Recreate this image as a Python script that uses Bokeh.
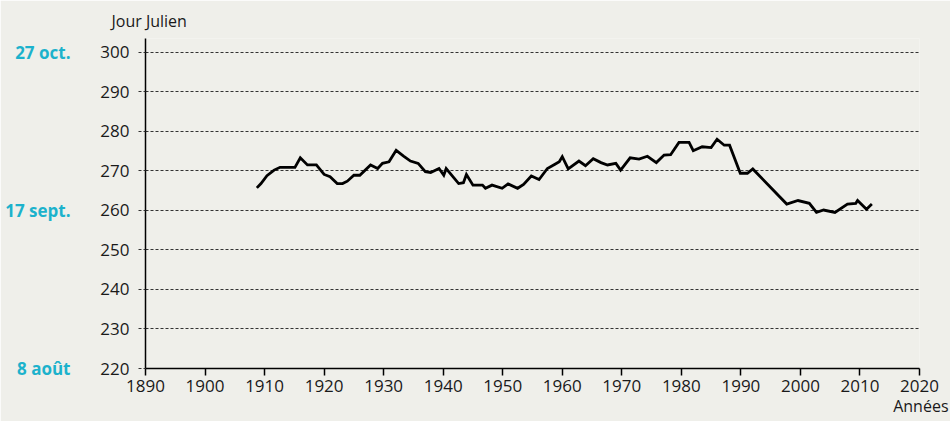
from bokeh.plotting import figure
from bokeh.models import LinearAxis, FixedTicker, Title, Range1d
from bokeh.embed import file_html
from bokeh.resources import INLINE

# Julian day of the event
years = [1908.7, 1909.4, 1910.4, 1911.6, 1912.6, 1915.1, 1916.0, 1917.2, 1918.7, 1920.0,
         1921.0, 1922.2, 1923.1, 1923.9, 1925.0, 1926.0, 1927.8, 1929.0, 1929.8, 1930.9,
         1932.1, 1933.4, 1934.5, 1935.8, 1937.0, 1937.9, 1939.3, 1940.1, 1940.5, 1942.6,
         1943.4, 1943.9, 1945.0, 1946.6, 1947.1, 1948.2, 1949.9, 1950.9, 1952.5, 1953.5,
         1954.8, 1956.1, 1957.5, 1958.7, 1959.5, 1960.0, 1961.0, 1962.8, 1963.9, 1965.2,
         1966.5, 1967.6, 1969.0, 1969.8, 1971.4, 1972.9, 1974.3, 1975.8, 1977.1, 1978.2,
         1979.6, 1981.3, 1982.0, 1983.5, 1985.0, 1986.0, 1987.2, 1988.1, 1989.9, 1991.1,
         1992.0, 1997.7, 1999.6, 2001.5, 2002.7, 2003.9, 2005.8, 2007.9, 2009.3, 2009.6,
         2011.1, 2012.0]
julian_day = [265.7, 266.8, 268.8, 270.2, 270.9, 270.9, 273.3, 271.5, 271.5, 269.1,
              268.5, 266.8, 266.8, 267.4, 268.9, 268.9, 271.5, 270.6, 271.9, 272.3,
              275.2, 273.7, 272.5, 271.9, 269.8, 269.6, 270.6, 268.9, 270.6, 266.8,
              267.0, 269.1, 266.4, 266.4, 265.6, 266.4, 265.6, 266.7, 265.6, 266.6,
              268.7, 267.8, 270.6, 271.6, 272.3, 273.6, 270.5, 272.5, 271.3, 273.1,
              272.1, 271.5, 271.9, 270.2, 273.3, 273.0, 273.7, 272.1, 274.0, 274.1,
              277.2, 277.2, 275.1, 276.1, 275.9, 278.0, 276.5, 276.5, 269.4, 269.4,
              270.5, 261.6, 262.5, 261.8, 259.5, 260.1, 259.5, 261.6, 261.8, 262.5,
              260.3, 261.6]

x_ticks = [1890, 1900, 1910, 1920, 1930, 1940, 1950, 1960, 1970, 1980, 1990, 2000, 2010, 2020]
y_ticks = [220, 230, 240, 250, 260, 270, 280, 290, 300]
date_ticks = [220, 260, 300]
date_labels = ["8 août", "17 sept.", "27 oct."]

BG = "#efefea"
CYAN = "#1cb2cc"
FONT = "Open Sans"
TXT = "#1a1a1a"

p = figure(width=950, height=421, output_backend="svg", toolbar_location=None,
           x_range=Range1d(1890, 2020), y_range=Range1d(220, 303.5),
           min_border_left=145, min_border_right=31, min_border_top=36, min_border_bottom=53)
p.background_fill_color = BG
p.border_fill_color = BG
p.outline_line_color = None

p.line(years, julian_day, line_color="black", line_width=2.8, line_join="miter")

# x axis
p.xaxis.ticker = FixedTicker(ticks=x_ticks)
p.xaxis.axis_line_color = "black"
p.xaxis.axis_line_width = 1.5
p.xaxis.major_tick_line_color = "black"
p.xaxis.major_tick_line_width = 1.5
p.xaxis.major_tick_out = 7
p.xaxis.major_tick_in = 0
p.xaxis.minor_tick_line_color = None
p.xaxis.major_label_standoff = 4
p.xaxis.major_label_text_font = FONT
p.xaxis.major_label_text_font_size = "17px"
p.xaxis.major_label_text_color = TXT

# y axis
p.yaxis.ticker = FixedTicker(ticks=y_ticks)
p.yaxis.axis_line_color = "black"
p.yaxis.axis_line_width = 1.5
p.yaxis.major_tick_line_color = "#333333"
p.yaxis.major_tick_line_dash = "3 2"
p.yaxis.major_tick_out = 7
p.yaxis.major_tick_in = 0
p.yaxis.minor_tick_line_color = None
p.yaxis.major_label_standoff = 9
p.yaxis.major_label_text_font = FONT
p.yaxis.major_label_text_font_size = "17px"
p.yaxis.major_label_text_color = TXT

p.xgrid.visible = False
p.ygrid.grid_line_color = "#333333"
p.ygrid.grid_line_dash = "3 2"
p.ygrid.grid_line_width = 1

# outer axis with calendar dates
date_axis = LinearAxis(ticker=FixedTicker(ticks=date_ticks),
                       major_label_overrides={t: l for t, l in zip(date_ticks, date_labels)})
date_axis.axis_line_color = None
date_axis.major_tick_line_color = None
date_axis.minor_tick_line_color = None
date_axis.major_tick_out = 0
date_axis.major_tick_in = 0
date_axis.major_label_standoff = 27
date_axis.major_label_text_font = FONT
date_axis.major_label_text_font_style = "bold"
date_axis.major_label_text_font_size = "17px"
date_axis.major_label_text_color = CYAN
p.add_layout(date_axis, "left")

p.add_layout(Title(text="Jour Julien", align="left", offset=-34, standoff=14,
                   text_font=FONT, text_font_size="16px", text_font_style="normal",
                   text_color=TXT), "above")
p.add_layout(Title(text="Années", align="right", offset=-29, standoff=0, vertical_align="top",
                   text_font=FONT, text_font_size="16px", text_font_style="normal",
                   text_color=TXT), "below")

open("out.html", "w").write(file_html(p, INLINE))
